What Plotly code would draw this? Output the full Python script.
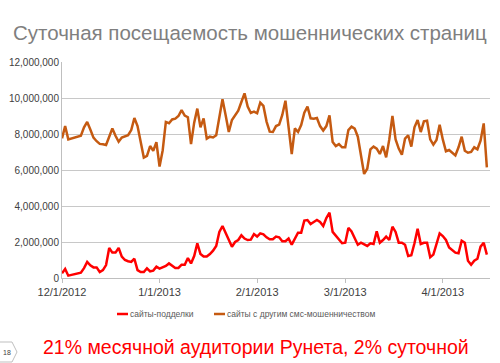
import datetime as dt
import plotly.graph_objects as go

# ---- data (values in millions) ----
start = dt.date(2012, 12, 1)
day_index = [0, 1, 2] + list(range(6, 136))

fake_sites = [
    0.26, 0.50, 0.13,
    0.30, 0.55, 0.89, 0.70, 0.59, 0.59, 0.33, 0.44, 0.72, 1.67,
    1.41, 1.41, 1.67, 1.19, 1.00, 0.93, 0.89, 1.07, 0.44, 0.33,
    0.33, 0.54, 0.37, 0.41, 0.63, 0.52, 0.59, 0.67, 0.81, 0.70,
    0.56, 0.56, 0.74, 0.74, 1.11, 0.81, 1.22, 1.93, 1.33, 1.19,
    1.19, 1.33, 1.52, 1.78, 2.56, 2.89, 2.48, 2.11, 1.74, 2.00,
    2.11, 2.37, 2.19, 2.11, 2.13,
    2.44, 2.30, 2.48, 2.43, 2.26, 2.15, 2.15, 2.30, 2.26, 2.04,
    2.04, 2.19, 1.85, 2.22, 2.52, 2.52, 3.19, 3.22, 3.00, 3.11,
    3.22, 3.11, 2.89, 3.33, 3.63, 2.56, 2.37, 2.15, 1.93, 1.96,
    2.78, 2.59, 2.19, 1.85, 1.96, 1.85, 1.78, 1.93, 1.89, 2.59,
    1.96, 2.11, 2.30, 2.11, 2.85, 2.56, 1.96, 1.96, 1.85, 1.22,
    1.26, 1.93, 2.74, 1.89, 1.96, 1.96, 1.15, 1.30, 1.89, 2.48,
    2.33, 2.11, 1.70, 1.56, 1.41, 1.37, 2.07, 1.96, 0.96, 0.74,
    0.96, 1.07, 1.74, 1.96, 1.30,
]

other_sms = [
    7.76, 8.44, 7.70,
    7.90, 8.37, 8.67, 8.25, 7.80, 7.60, 7.45, 7.43, 7.39, 7.85,
    8.31, 7.90, 7.57, 7.80, 7.88, 7.93, 8.22, 8.89, 8.44, 7.60,
    6.69, 6.78, 7.33, 7.07, 7.54, 6.19, 7.10, 8.67, 8.60, 8.81,
    8.85, 9.00, 9.33, 9.02, 8.93, 7.44, 8.63, 9.41, 8.37, 8.87,
    7.74, 7.85, 7.81, 7.93, 8.96, 9.93, 9.04, 8.11, 8.78, 9.04,
    9.30, 9.78, 10.26, 9.52, 9.17,
    9.24, 9.15, 9.74, 9.56, 8.69, 8.13, 8.11, 8.44, 8.52, 9.06,
    9.85, 8.50, 6.89, 8.31, 8.11, 8.50, 9.19, 9.52, 8.87, 8.85,
    8.89, 8.44, 8.19, 8.44, 9.04, 7.56, 7.33, 7.44, 7.26, 7.26,
    8.22, 8.41, 8.30, 7.85, 6.89, 5.78, 6.07, 7.15, 7.30, 7.19,
    6.89, 7.33, 6.70, 7.70, 9.00, 7.70, 7.19, 6.85, 7.74, 7.93,
    7.30, 8.37, 8.78, 8.11, 8.70, 8.74, 7.70, 7.41, 7.67, 8.52,
    7.70, 7.04, 7.11, 6.96, 6.81, 7.26, 7.85, 7.07, 6.96, 7.00,
    7.26, 7.15, 7.63, 8.59, 6.15,
]

dates = [start + dt.timedelta(days=d) for d in day_index]
fake_vals = [v * 1e6 for v in fake_sites]
other_vals = [v * 1e6 for v in other_sms]

month_ticks = ["2012-12-01", "2013-01-01", "2013-02-01", "2013-03-01", "2013-04-01"]
month_labels = ["12/1/2012", "1/1/2013", "2/1/2013", "3/1/2013", "4/1/2013"]
y_ticks = [0, 2e6, 4e6, 6e6, 8e6, 10e6, 12e6]
y_labels = ["0", "2,000,000", "4,000,000", "6,000,000", "8,000,000", "10,000,000", "12,000,000"]

RED = "#FF0000"
ORANGE = "#C55A11"

fig = go.Figure()
fig.add_trace(go.Scatter(x=dates, y=fake_vals, mode="lines",
                         line=dict(color=RED, width=2.5), name="сайты-подделки",
                         showlegend=False))
fig.add_trace(go.Scatter(x=dates, y=other_vals, mode="lines",
                         line=dict(color=ORANGE, width=2.5),
                         name="сайты с другим смс-мошенничеством", showlegend=False))

W, H = 500, 363
L, R, T, B = 62, 10, 62, 85

fig.update_layout(
    width=W, height=H,
    margin=dict(l=L, r=R, t=T, b=B),
    paper_bgcolor="white", plot_bgcolor="white",
    font=dict(family="Liberation Sans, Arial, sans-serif", color="#404040"),
    xaxis=dict(
        type="date", range=["2012-12-01", "2013-04-16"],
        tickvals=month_ticks, ticktext=month_labels,
        showgrid=False, showline=True, linecolor="#BFBFBF", linewidth=1,
        ticks="outside", ticklen=4, tickcolor="#BFBFBF",
        tickfont=dict(size=11, color="#404040"), zeroline=False,
    ),
    yaxis=dict(
        range=[0, 12e6], tickvals=y_ticks, ticktext=y_labels,
        showgrid=True, gridcolor="#C8C8C8", gridwidth=1,
        showline=True, linecolor="#BFBFBF", linewidth=1,
        ticks="", tickfont=dict(size=10, color="#404040"), zeroline=False,
    ),
    showlegend=False,
)

def px(x):
    return (x - L) / (W - L - R)

def py(y):
    return (H - B - y) / (H - T - B)

annotations = [
    dict(text="Суточная посещаемость мошеннических страниц", x=px(11), y=py(33),
         xref="paper", yref="paper", xanchor="left", yanchor="middle",
         showarrow=False, font=dict(size=20.5, color="#7F7F7F")),
    dict(text="сайты-подделки", x=px(128), y=py(314), xref="paper", yref="paper",
         xanchor="left", yanchor="middle", showarrow=False,
         font=dict(size=8.5, color="#595959")),
    dict(text="сайты с другим смс-мошенничеством", x=px(225), y=py(314),
         xref="paper", yref="paper", xanchor="left", yanchor="middle",
         showarrow=False, font=dict(size=8.5, color="#595959")),
    dict(text="21% месячной аудитории Рунета, 2% суточной", x=px(256), y=py(347),
         xref="paper", yref="paper", xanchor="center", yanchor="middle",
         showarrow=False, font=dict(size=19.5, color="#FF0000")),
    dict(text="18", x=px(7), y=py(352), xref="paper", yref="paper",
         xanchor="center", yanchor="middle", showarrow=False,
         font=dict(size=7, color="#404040")),
]
fig.update_layout(annotations=annotations)

shapes = [
    dict(type="line", xref="paper", yref="paper", x0=px(117), x1=px(128),
         y0=py(314), y1=py(314), line=dict(color=RED, width=2.5)),
    dict(type="line", xref="paper", yref="paper", x0=px(214), x1=px(225),
         y0=py(314), y1=py(314), line=dict(color=ORANGE, width=2.5)),
    dict(type="path", xref="paper", yref="paper",
         path=f"M {px(-1)},{py(342)} L {px(12)},{py(342)} L {px(17)},{py(352)} "
              f"L {px(12)},{py(362)} L {px(-1)},{py(362)}",
         line=dict(color="#BFBFBF", width=1)),
]
fig.update_layout(shapes=shapes)

fig.write_html("out.html", config={"displayModeBar": False},
               post_script="document.body.style.margin='0px';document.body.style.overflow='hidden';")
